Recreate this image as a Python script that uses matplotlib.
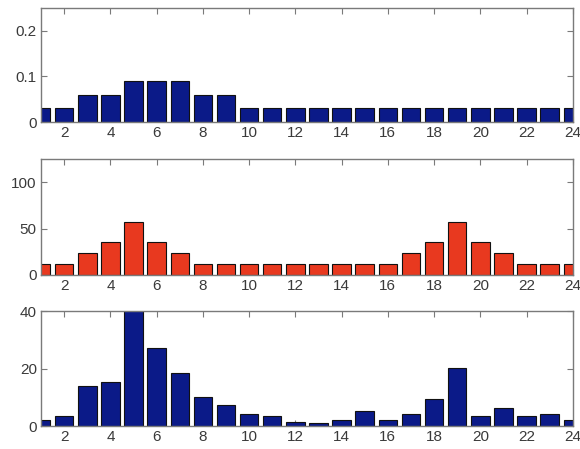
import matplotlib
matplotlib.use("Agg")
import matplotlib.pyplot as plt
import numpy as np

plt.rcParams['font.family'] = ['Liberation Sans', 'DejaVu Sans']

hours = list(range(1, 25))
series_top = [0.03, 0.03, 0.06, 0.06, 0.09, 0.09, 0.09, 0.06, 0.06,
              0.03, 0.03, 0.03, 0.03, 0.03, 0.03, 0.03, 0.03, 0.03,
              0.03, 0.03, 0.03, 0.03, 0.03, 0.03]
series_mid = [12, 12, 24, 35, 57, 35, 24, 12, 12, 12, 12, 12, 12, 12, 12, 12,
              24, 35, 57, 35, 24, 12, 12, 12]
series_bot = [2.2, 3.5, 14, 15.4, 42, 27.3, 18.5, 10.2, 7.3, 4.3, 3.4, 1.3,
              1.2, 2.2, 5.1, 2.2, 4.3, 9.5, 20.1, 3.5, 6.4, 3.5, 4.3, 2.2]
xticks = [2, 4, 6, 8, 10, 12, 14, 16, 18, 20, 22, 24]
yticks_top = [0, 0.1, 0.2]
yticks_mid = [0, 50, 100]
yticks_bot = [0, 20, 40]

blue = '#0b1a88'
red = '#e8391f'
text_col = '#3a3a3a'
spine_col = '#7a7a7a'

fig = plt.figure(figsize=(5.8, 4.49), dpi=100)
specs = [
    ([0.0707, 0.728, 0.917, 0.255], series_top, blue, (0, 0.25), yticks_top, ['0', '0.1', '0.2']),
    ([0.0707, 0.388, 0.917, 0.257], series_mid, red, (0, 125), yticks_mid, ['0', '50', '100']),
    ([0.0707, 0.051, 0.917, 0.256], series_bot, blue, (0, 40), yticks_bot, ['0', '20', '40']),
]
for rect, vals, col, ylim, yt, ytl in specs:
    ax = fig.add_axes(rect)
    ax.set_axisbelow(True)
    ax.bar(hours, vals, width=0.8, color=col, edgecolor='#111111', linewidth=0.8)
    ax.set_xlim(1, 24)
    ax.set_ylim(*ylim)
    ax.set_xticks(xticks)
    ax.set_xticklabels([str(t) for t in xticks])
    ax.set_yticks(yt)
    ax.set_yticklabels(ytl)
    ax.tick_params(direction='in', top=True, right=True, length=4, width=0.8,
                   colors=spine_col, labelcolor=text_col, labelsize=11, pad=3)
    for s in ax.spines.values():
        s.set_color(spine_col)
        s.set_linewidth(1.0)

fig.savefig('out.png', dpi=100)
